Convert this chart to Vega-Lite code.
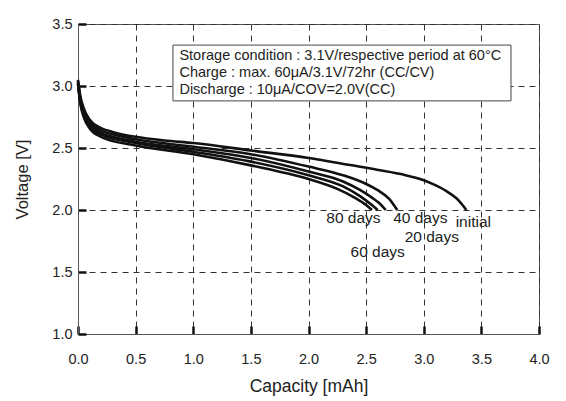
{
  "$schema": "https://vega.github.io/schema/vega-lite/v6.json",
  "autosize": "none",
  "padding": {"left": 78, "top": 24, "right": 27, "bottom": 67},
  "width": 461,
  "height": 310,
  "background": "white",
  "config": {
    "font": "Liberation Sans",
    "view": {"stroke": "#555", "strokeWidth": 1},
    "axis": {
      "labelFont": "Liberation Sans",
      "titleFont": "Liberation Sans",
      "labelFontSize": 14.5,
      "titleFontWeight": "normal",
      "labelColor": "#222",
      "titleColor": "#222",
      "domainColor": "#555",
      "grid": true,
      "gridColor": "#333",
      "gridDash": [6, 5],
      "gridWidth": 1,
      "tickColor": "#111",
      "tickWidth": 2.5,
      "tickSize": -8
    }
  },
  "datasets": {
    "curves": [
      {"series": "initial", "cap": 0.0, "v": 3.05},
      {"series": "initial", "cap": 0.02, "v": 2.92},
      {"series": "initial", "cap": 0.05, "v": 2.82},
      {"series": "initial", "cap": 0.1, "v": 2.73},
      {"series": "initial", "cap": 0.2, "v": 2.66},
      {"series": "initial", "cap": 0.3, "v": 2.63},
      {"series": "initial", "cap": 0.5, "v": 2.59},
      {"series": "initial", "cap": 0.75, "v": 2.56},
      {"series": "initial", "cap": 1.0, "v": 2.54},
      {"series": "initial", "cap": 1.5, "v": 2.48},
      {"series": "initial", "cap": 2.0, "v": 2.42},
      {"series": "initial", "cap": 2.5, "v": 2.34},
      {"series": "initial", "cap": 2.8, "v": 2.29},
      {"series": "initial", "cap": 3.0, "v": 2.24},
      {"series": "initial", "cap": 3.1, "v": 2.2},
      {"series": "initial", "cap": 3.2, "v": 2.15},
      {"series": "initial", "cap": 3.3, "v": 2.08},
      {"series": "initial", "cap": 3.37, "v": 2.0},
      {"series": "20 days", "cap": 0.0, "v": 3.04},
      {"series": "20 days", "cap": 0.02, "v": 2.9},
      {"series": "20 days", "cap": 0.05, "v": 2.8},
      {"series": "20 days", "cap": 0.1, "v": 2.71},
      {"series": "20 days", "cap": 0.2, "v": 2.64},
      {"series": "20 days", "cap": 0.3, "v": 2.61},
      {"series": "20 days", "cap": 0.5, "v": 2.57},
      {"series": "20 days", "cap": 1.0, "v": 2.51},
      {"series": "20 days", "cap": 1.5, "v": 2.45},
      {"series": "20 days", "cap": 2.0, "v": 2.35},
      {"series": "20 days", "cap": 2.3, "v": 2.28},
      {"series": "20 days", "cap": 2.5, "v": 2.21},
      {"series": "20 days", "cap": 2.6, "v": 2.16},
      {"series": "20 days", "cap": 2.7, "v": 2.09},
      {"series": "20 days", "cap": 2.77, "v": 2.0},
      {"series": "40 days", "cap": 0.0, "v": 3.03},
      {"series": "40 days", "cap": 0.02, "v": 2.88},
      {"series": "40 days", "cap": 0.05, "v": 2.78},
      {"series": "40 days", "cap": 0.1, "v": 2.69},
      {"series": "40 days", "cap": 0.2, "v": 2.62},
      {"series": "40 days", "cap": 0.3, "v": 2.59},
      {"series": "40 days", "cap": 0.5, "v": 2.55},
      {"series": "40 days", "cap": 1.0, "v": 2.49},
      {"series": "40 days", "cap": 1.5, "v": 2.42},
      {"series": "40 days", "cap": 2.0, "v": 2.31},
      {"series": "40 days", "cap": 2.3, "v": 2.23},
      {"series": "40 days", "cap": 2.45, "v": 2.16},
      {"series": "40 days", "cap": 2.55, "v": 2.1},
      {"series": "40 days", "cap": 2.62, "v": 2.05},
      {"series": "40 days", "cap": 2.67, "v": 2.0},
      {"series": "60 days", "cap": 0.0, "v": 3.02},
      {"series": "60 days", "cap": 0.02, "v": 2.87},
      {"series": "60 days", "cap": 0.05, "v": 2.77},
      {"series": "60 days", "cap": 0.1, "v": 2.68},
      {"series": "60 days", "cap": 0.2, "v": 2.61},
      {"series": "60 days", "cap": 0.5, "v": 2.54},
      {"series": "60 days", "cap": 1.0, "v": 2.47},
      {"series": "60 days", "cap": 1.5, "v": 2.39},
      {"series": "60 days", "cap": 2.0, "v": 2.28},
      {"series": "60 days", "cap": 2.3, "v": 2.19},
      {"series": "60 days", "cap": 2.45, "v": 2.11},
      {"series": "60 days", "cap": 2.55, "v": 2.04},
      {"series": "60 days", "cap": 2.6, "v": 2.0},
      {"series": "80 days", "cap": 0.0, "v": 3.02},
      {"series": "80 days", "cap": 0.02, "v": 2.86},
      {"series": "80 days", "cap": 0.05, "v": 2.75},
      {"series": "80 days", "cap": 0.1, "v": 2.66},
      {"series": "80 days", "cap": 0.2, "v": 2.59},
      {"series": "80 days", "cap": 0.5, "v": 2.52},
      {"series": "80 days", "cap": 1.0, "v": 2.45},
      {"series": "80 days", "cap": 1.5, "v": 2.36},
      {"series": "80 days", "cap": 2.0, "v": 2.25},
      {"series": "80 days", "cap": 2.25, "v": 2.17},
      {"series": "80 days", "cap": 2.4, "v": 2.1},
      {"series": "80 days", "cap": 2.5, "v": 2.04},
      {"series": "80 days", "cap": 2.55, "v": 2.0}
    ],
    "labels": [
      {"label": "80 days", "cap": 2.39, "v": 1.935},
      {"label": "40 days", "cap": 2.97, "v": 1.935},
      {"label": "initial", "cap": 3.43, "v": 1.9},
      {"label": "20 days", "cap": 3.07, "v": 1.78},
      {"label": "60 days", "cap": 2.6, "v": 1.66}
    ],
    "box": [
      {"x1": 0.824, "x2": 3.757, "y1": 2.88, "y2": 3.33}
    ],
    "notes": [
      {"text": "Storage condition : 3.1V/respective period at 60°C", "cap": 0.88, "v": 3.242},
      {"text": "Charge : max. 60μA/3.1V/72hr (CC/CV)", "cap": 0.88, "v": 3.105},
      {"text": "Discharge : 10μA/COV=2.0V(CC)", "cap": 0.88, "v": 2.968}
    ]
  },
  "layer": [
    {
      "data": {"name": "curves"},
      "mark": {"type": "line", "color": "#111", "strokeWidth": 2.6, "interpolate": "monotone"},
      "encoding": {
        "x": {
          "field": "cap", "type": "quantitative",
          "scale": {"domain": [0, 4], "nice": false},
          "axis": {"values": [0, 0.5, 1, 1.5, 2, 2.5, 3, 3.5, 4], "format": ".1f", "title": "Capacity [mAh]", "titleFontSize": 17.5, "labelPadding": 26, "titlePadding": 12, "labelFlush": false}
        },
        "y": {
          "field": "v", "type": "quantitative",
          "scale": {"domain": [1, 3.5], "nice": false},
          "axis": {"values": [1, 1.5, 2, 2.5, 3, 3.5], "format": ".1f", "title": "Voltage [V]", "titleFontSize": 16.5, "labelPadding": 14, "titlePadding": 21, "labelFlush": false}
        },
        "detail": {"field": "series"}
      }
    },
    {
      "data": {"name": "box"},
      "mark": {"type": "rect", "fill": "white", "stroke": "#444", "strokeWidth": 1},
      "encoding": {
        "x": {"field": "x1", "type": "quantitative"},
        "x2": {"field": "x2"},
        "y": {"field": "y1", "type": "quantitative"},
        "y2": {"field": "y2"}
      }
    },
    {
      "data": {"name": "notes"},
      "mark": {"type": "text", "align": "left", "baseline": "middle", "fontSize": 14.5, "color": "#222"},
      "encoding": {
        "x": {"field": "cap", "type": "quantitative"},
        "y": {"field": "v", "type": "quantitative"},
        "text": {"field": "text"}
      }
    },
    {
      "data": {"name": "labels"},
      "mark": {"type": "text", "align": "center", "baseline": "middle", "fontSize": 15.5, "color": "#222"},
      "encoding": {
        "x": {"field": "cap", "type": "quantitative"},
        "y": {"field": "v", "type": "quantitative"},
        "text": {"field": "label"}
      }
    }
  ]
}
